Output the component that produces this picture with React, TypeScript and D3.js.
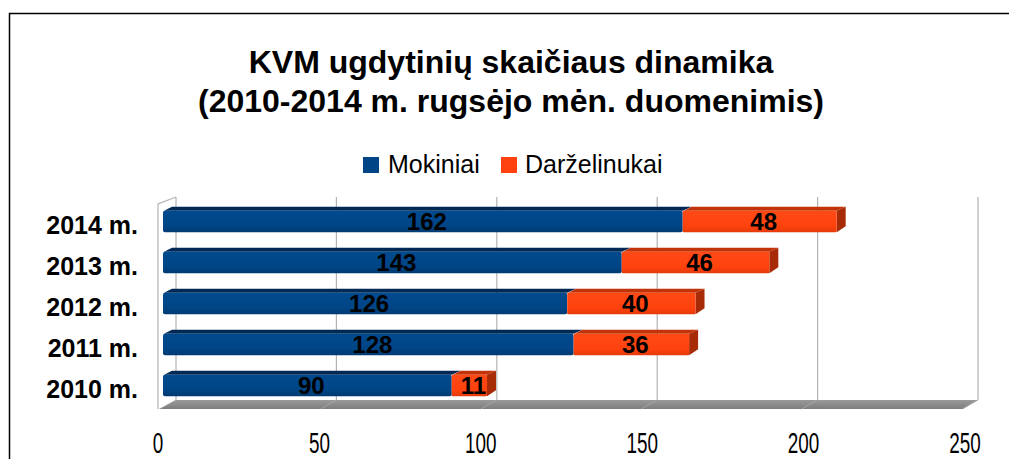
import React from "react";
import * as d3 from "d3";

// data
const years = ["2014 m.", "2013 m.", "2012 m.", "2011 m.", "2010 m."];
const mokiniai = [162, 143, 126, 128, 90];
const darzelinukai = [48, 46, 40, 36, 11];
const seriesNames = ["Mokiniai", "Darželinukai"];
const ticks = [0, 50, 100, 150, 200, 250];

const W = 1009;
const H = 459;
const FONT = "'Liberation Sans', Arial, sans-serif";

// 3d offsets
const DX = 9;
const DY = 4;

const colors = {
  blue: { front: "#004586", top: "#002a55", side: "#00305f" },
  orange: { front: "#ff420e", top: "#c23309", side: "#a82b07" },
};

export default function App() {
  // front plane value scale and back wall value scale
  const x = d3.scaleLinear().domain([0, 250]).range([163, 965]);
  const xBack = d3.scaleLinear().domain([0, 250]).range([176, 978]);
  const y = d3
    .scaleBand<string>()
    .domain(years)
    .range([201, 406])
    .paddingInner(0.48)
    .paddingOuter(0.24);

  const wallTop = 197;
  const floorBack = 400;
  const floorFront = 409;

  const stacked = years.map((yr, i) => {
    const a = mokiniai[i];
    const b = darzelinukai[i];
    return [
      { key: "blue" as const, yr, v: a, x0: 0, x1: a },
      { key: "orange" as const, yr, v: b, x0: a, x1: a + b },
    ];
  });

  const bh = y.bandwidth();

  return (
    <svg
      width={W}
      height={H}
      style={{ position: "absolute", left: 0, top: 0, background: "#fff" }}
      fontFamily={FONT}
    >
      <defs>
        <linearGradient id="gBlue" x1="0" y1="0" x2="0" y2="1">
          <stop offset="0" stopColor="#004a8d" />
          <stop offset="0.7" stopColor="#004586" />
          <stop offset="1" stopColor="#003a72" />
        </linearGradient>
        <linearGradient id="gOrange" x1="0" y1="0" x2="0" y2="1">
          <stop offset="0" stopColor="#ff4a16" />
          <stop offset="0.7" stopColor="#ff420e" />
          <stop offset="1" stopColor="#e63a0b" />
        </linearGradient>
        <linearGradient id="gFloor" x1="0" y1="0" x2="0" y2="1">
          <stop offset="0" stopColor="#9a9a9a" />
          <stop offset="1" stopColor="#7e7e7e" />
        </linearGradient>
      </defs>

      {/* outer frame */}
      <rect x={9.5} y={13.5} width={W + 20} height={H + 20} fill="#fff" stroke="#000" strokeWidth={1.5} />

      {/* title */}
      <text x={511} y={73} textAnchor="middle" fontSize={32} fontWeight="bold">
        KVM ugdytinių skaičiaus dinamika
      </text>
      <text x={511} y={112} textAnchor="middle" fontSize={32} fontWeight="bold">
        (2010-2014 m. rugsėjo mėn. duomenimis)
      </text>

      {/* legend */}
      <rect x={363} y={157} width={16} height={16} fill={colors.blue.front} />
      <text x={388} y={173} fontSize={25}>{seriesNames[0]}</text>
      <rect x={501} y={157} width={16} height={16} fill={colors.orange.front} />
      <text x={525} y={173} fontSize={25}>{seriesNames[1]}</text>

      {/* back wall grid */}
      {ticks.map((t) => (
        <line key={t} x1={xBack(t)} x2={xBack(t)} y1={wallTop} y2={floorBack} stroke="#b3b3b3" strokeWidth={1.2} />
      ))}
      {/* left wall */}
      <polyline
        points={`${x(0) - 5},${floorFront} ${x(0) - 5},${wallTop + 7} ${xBack(0)},${wallTop}`}
        fill="none"
        stroke="#b3b3b3"
        strokeWidth={1.2}
      />

      {/* floor */}
      <polygon
        points={`${xBack(0)},${floorBack} ${xBack(250)},${floorBack} ${x(250) - 2},${floorFront} ${x(0) - 4},${floorFront}`}
        fill="url(#gFloor)"
      />
      {ticks.map((t) => (
        <line key={"f" + t} x1={xBack(t)} x2={x(t) - 3} y1={floorBack} y2={floorFront} stroke="#a8a8a8" strokeWidth={0.8} />
      ))}

      {/* bars */}
      {stacked.map((segs, i) => (
        <g key={years[i]}>
          {segs.map((s, j) => {
            const x0 = x(s.x0);
            const x1 = x(s.x1);
            const y0 = y(s.yr)!;
            const y1 = y0 + bh;
            const c = colors[s.key];
            return (
              <g key={j}>
                <polygon
                  points={`${x0 + 1},${y0} ${x0 + DX},${y0 - DY} ${x1 + DX},${y0 - DY} ${x1},${y0}`}
                  fill={c.top}
                />
                {j === segs.length - 1 && (
                  <polygon
                    points={`${x1},${y0} ${x1 + DX},${y0 - DY} ${x1 + DX},${y1 - DY - 2} ${x1},${y1}`}
                    fill={c.side}
                  />
                )}
                <rect
                  x={x0}
                  y={y0}
                  width={x1 - x0}
                  height={bh}
                  rx={j === 0 ? 2 : 1}
                  fill={s.key === "blue" ? "url(#gBlue)" : "url(#gOrange)"}
                />
              </g>
            );
          })}
        </g>
      ))}

      {/* value labels */}
      {stacked.map((segs) =>
        segs.map((s, j) => (
          <text
            key={s.yr + j}
            x={(x(s.x0) + x(s.x1)) / 2 + 4}
            y={y(s.yr)! + bh / 2 + 8.5}
            textAnchor="middle"
            fontSize={24}
            fontWeight="bold"
            fill="#000"
          >
            {s.v}
          </text>
        ))
      )}

      {/* category labels */}
      {years.map((yr) => (
        <text key={yr} x={138} y={y(yr)! + bh / 2 + 12} textAnchor="end" fontSize={25} fontWeight="bold">
          {yr}
        </text>
      ))}

      {/* x tick labels (condensed) */}
      {ticks.map((t) => (
        <g key={"t" + t} transform={`translate(${x(t) - 5 + (t / 250) * 5},453) scale(0.63,1)`}>
          <text textAnchor="middle" fontSize={30}>{t}</text>
        </g>
      ))}
    </svg>
  );
}
